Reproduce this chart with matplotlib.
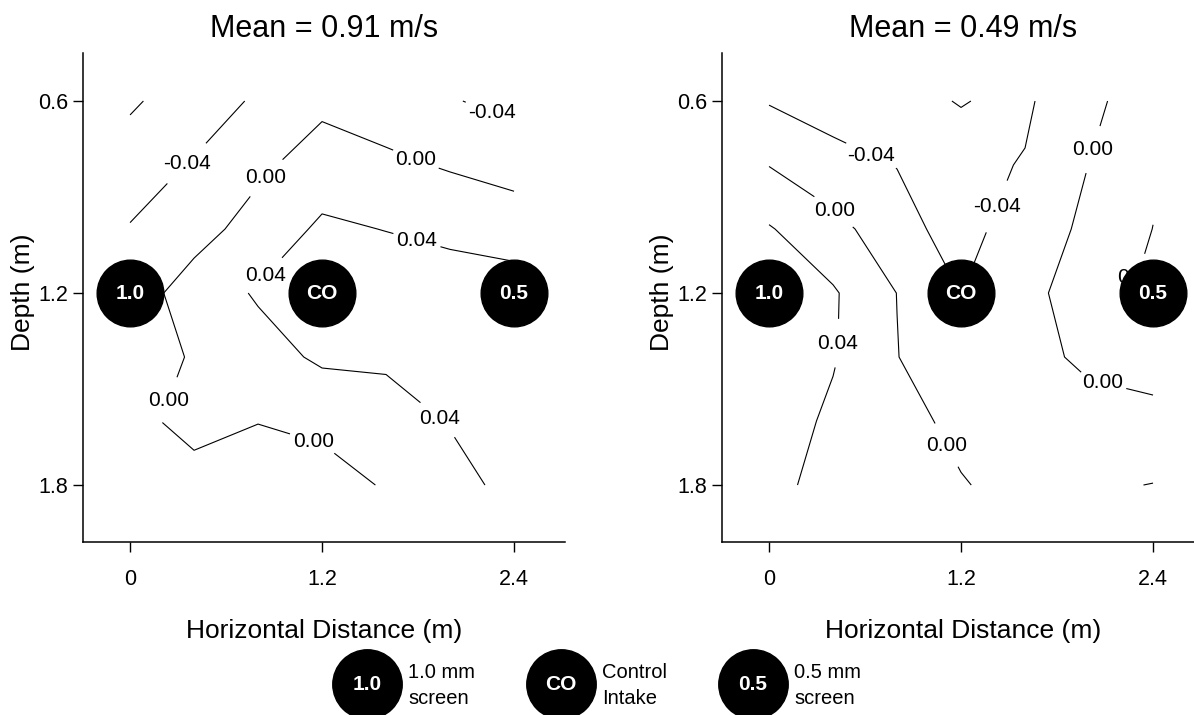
import numpy as np
import matplotlib
matplotlib.use("Agg")
import matplotlib.pyplot as plt

plt.rcParams['font.family'] = ['Liberation Sans', 'DejaVu Sans']

# Measurement grid (m)
dist = [0.0, 0.4, 0.8, 1.2, 1.6, 2.0, 2.4]
depth = [0.6, 0.8, 1.0, 1.2, 1.4, 1.6, 1.8]

# Velocity deviation from the cross-section mean (m/s); rows follow depth, columns follow dist
dev_fast = [
    [-0.035, -0.059, -0.035, -0.009, -0.022, -0.037, -0.052],
    [-0.058, -0.037, -0.008,  0.019,  0.0085, -0.004, -0.015],
    [-0.038, -0.015,  0.016,  0.0465, 0.039,  0.033,  0.0216],
    [-0.020,  0.018,  0.044,  0.070,  0.065,  0.055,  0.058],
    [-0.020,  0.0035, 0.025,  0.046,  0.046,  0.055,  0.060],
    [-0.022,  0.024,  0.001,  0.011,  0.024,  0.042,  0.055],
    [-0.020, -0.0285, -0.020, -0.020, 0.004,  0.028,  0.050],
]
dev_slow = [
    [-0.0427, -0.060, -0.046, -0.039, -0.0455, -0.0102, 0.025],
    [-0.001, -0.0243, -0.0413, -0.049, -0.038,  0.0005,  0.033],
    [ 0.043,  0.0109, -0.0208, -0.0625, -0.0083, 0.0032, 0.0405],
    [ 0.060,  0.0443, -0.0005, -0.0405, -0.0107, 0.0186, 0.050],
    [ 0.065,  0.043,   0.001,  -0.031, -0.015,   0.0093,  0.012],
    [ 0.060,  0.033,   0.012,  -0.0089, -0.020, -0.0173, -0.0082],
    [ 0.048,  0.030,   0.017,   0.0022, -0.0116, -0.0343, -0.041],
]
mean_speed = [0.91, 0.49]
levels = [-0.04, 0.0, 0.04]

# Intake locations and tags
intake_x = [0.0, 1.2, 2.4]
intake_y = [1.2, 1.2, 1.2]
intake_tags = ["1.0", "CO", "0.5"]
legend_lines = [("1.0 mm", "screen"), ("Control", "Intake"), ("0.5 mm", "screen")]

# Where contour labels sit (data coordinates)
label_spots = [
    [(0.333, 0.784), (0.844, 0.837), (1.78, 0.79), (2.26, 0.636),
     (1.79, 1.04), (0.844, 1.145), (0.235, 1.534), (1.935, 1.59), (1.146, 1.663)],
    [(0.635, 0.774), (0.417, 0.938), (1.425, 0.930), (2.02, 0.751),
     (0.428, 1.357), (2.083, 1.482), (1.11, 1.675), (2.30, 1.15)],
]

W, H = 1194, 715
fig = plt.figure(figsize=(W / 100, H / 100), dpi=100)
fig.patch.set_facecolor('white')

ax_w = (564.6 - 82.7) / W
ax_h = (542 - 52.7) / H
ax_b = 1 - 542 / H
lefts = [82.7 / W, 721.7 / W]

X, Y = np.meshgrid(dist, depth)

for i, (dev, mean) in enumerate(zip([dev_fast, dev_slow], mean_speed)):
    ax = fig.add_axes([lefts[i], ax_b, ax_w, ax_h])
    ax.set_xlim(-0.296, 2.716)
    ax.set_ylim(1.978, 0.449)
    for s in ['top', 'right']:
        ax.spines[s].set_visible(False)
    for s in ['left', 'bottom']:
        ax.spines[s].set_linewidth(1.1)
    ax.set_xticks([0, 1.2, 2.4], ["0", "1.2", "2.4"])
    ax.set_yticks([0.6, 1.2, 1.8], ["0.6", "1.2", "1.8"])
    ax.tick_params(axis='x', direction='out', length=7, width=1, labelsize=15.5, pad=12.5)
    ax.tick_params(axis='y', direction='out', length=7, width=1, labelsize=15.5, pad=3.5)

    ax.set_title(f"Mean = {mean:.2f} m/s", fontsize=22, pad=11)
    ax.set_xlabel("Horizontal Distance (m)", fontsize=19)
    ax.xaxis.set_label_coords(0.5, -0.157)
    ax.set_ylabel("Depth (m)", fontsize=19)
    ax.yaxis.set_label_coords(-0.098, 0.51)

    Z = np.array(dev)
    cs = ax.contour(X, Y, Z, levels=levels, colors='black', linewidths=0.8,
                    linestyles='solid', algorithm='mpl2014')
    texts = ax.clabel(cs, fmt='%.2f', fontsize=15, inline=True, inline_spacing=4,
                      manual=label_spots[i])
    for t in texts:
        t.set_rotation(0)
        t.set_zorder(4)

    ax.plot(intake_x, intake_y, 'o', ms=48, color='black', zorder=5, clip_on=False)
    for x, y, tag in zip(intake_x, intake_y, intake_tags):
        ax.text(x, y, tag, color='white', fontweight='bold', fontsize=15,
                ha='center', va='center', zorder=6)

# Key along the bottom, laid out in pixel space
lax = fig.add_axes([0, 0, 1, 1])
lax.set_xlim(0, W)
lax.set_ylim(H, 0)
lax.axis('off')
key_cx = [367, 561, 753]
key_cy = 684
lax.plot(key_cx, [key_cy] * 3, 'o', ms=50, color='black', clip_on=False)
for cx, tag, (l1, l2) in zip(key_cx, intake_tags, legend_lines):
    lax.text(cx, key_cy, tag, color='white', fontweight='bold', fontsize=15,
             ha='center', va='center')
    lax.text(cx + 41, 678, l1, fontsize=14.5, ha='left', va='baseline')
    lax.text(cx + 41, 704, l2, fontsize=14.5, ha='left', va='baseline')

fig.savefig("out.png", dpi=100)
